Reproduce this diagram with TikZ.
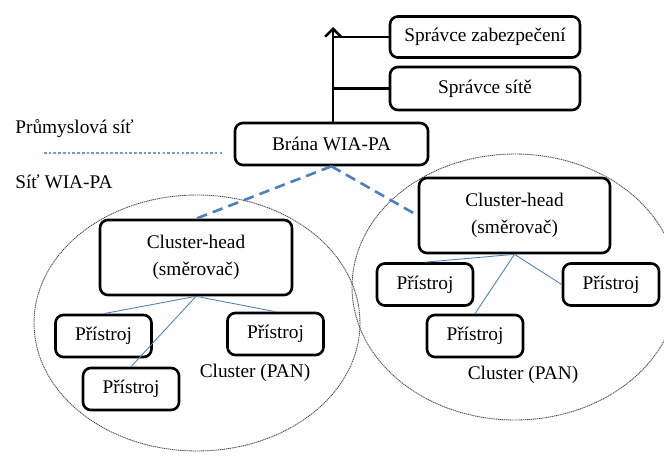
\documentclass[tikz,border=0pt]{standalone}
\usepackage{fontspec}
\setmainfont{Liberation Serif}
\usepackage{tikz}
\usetikzlibrary{arrows.meta, positioning, calc}
\definecolor{wiablue}{HTML}{4F81BD}
\tikzset{
    box/.style={draw, line width=1.5pt, rounded corners=4.5pt, align=center, inner sep=2pt},
    wide/.style={box, minimum width=3.8cm, minimum height=0.82cm},
    head/.style={box, minimum width=3.84cm, minimum height=1.5cm, font=\fontsize{11}{15.5}\selectfont},
    dev/.style={box, minimum width=1.92cm, minimum height=0.84cm},
    plain/.style={inner sep=0pt},
    uplink/.style={line width=1.5pt},
    wialink/.style={wiablue, line width=1.5pt, dash pattern=on 6pt off 3.5pt},
    panlink/.style={wiablue, line width=0.5pt},
    pan/.style={draw=black!70, line width=0.5pt, dash pattern=on 0.7pt off 0.4pt},
    netsep/.style={wiablue!80, line width=0.7pt, dash pattern=on 1.5pt off 1.2pt},
}

\begin{document}
\begin{tikzpicture}[x=0.02cm, y=-0.02cm, font=\fontsize{11}{13}\selectfont]
    \useasboundingbox (0,0) rectangle (664,463);
    \clip (0,0) rectangle (664,463);

    \draw[pan] (197,323) ellipse [x radius=3.26cm, y radius=2.56cm];
    \draw[pan] (515,287) ellipse [x radius=3.26cm, y radius=2.66cm];

    \node[wide] (sz) at (485,37) {Správce zabezpečení};
    \node[wide, minimum height=0.86cm] (ss) at (485,88.5) {Správce sítě};
    \node[wide, minimum width=3.86cm, minimum height=0.84cm] (brana) at (331.5,144) {Brána WIA-PA};

    \node[plain, anchor=west] (prum) at (15,129) {Průmyslová síť};
    \node[plain, anchor=west] (wia) at (15,182) {Síť WIA-PA};
    \coordinate (sepL) at (44,153);
    \coordinate (sepR) at (222,153);
    \draw[netsep] (sepL) -- (sepR);

    \node[head] (chL) at (196,257.5) {Cluster-head\\(směrovač)};
    \node[head, minimum width=3.82cm] (chR) at (514.5,215.5) {Cluster-head\\(směrovač)};

    \node[dev] (pA) at (103.5,336) {Přístroj};
    \node[dev] (pB) at (275.5,334) {Přístroj};
    \node[dev] (pC) at (131,389) {Přístroj};
    \node[dev] (pD) at (425,284.5) {Přístroj};
    \node[dev] (pE) at (611,284.5) {Přístroj};
    \node[dev] (pF) at (475,336) {Přístroj};

    \node[plain] (panL) at (255,373) {Cluster (PAN)};
    \node[plain] (panR) at (523,375) {Cluster (PAN)};

    \coordinate (up) at (333,27);
    \draw[uplink, -{Straight Barb[length=4.5pt, width=9pt]}] (brana.north -| up) -- (up);
    \draw[uplink] (sz.west) -- (sz.west -| up);
    \draw[uplink] (ss.west) -- (ss.west -| up);

    \draw[wialink] (brana.south) -- (chL.north);
    \draw[wialink] (brana.south) -- (chR.west);

    \draw[panlink] (chL.south) -- (pA.north);
    \draw[panlink] (chL.south) -- (pB.north);
    \draw[panlink] (chL.south) -- (pC.north);
    \draw[panlink] (chR.south) -- (pD.north);
    \draw[panlink] (chR.south) -- (pE.west);
    \draw[panlink] (chR.south) -- (pF.north);
\end{tikzpicture}
\end{document}
